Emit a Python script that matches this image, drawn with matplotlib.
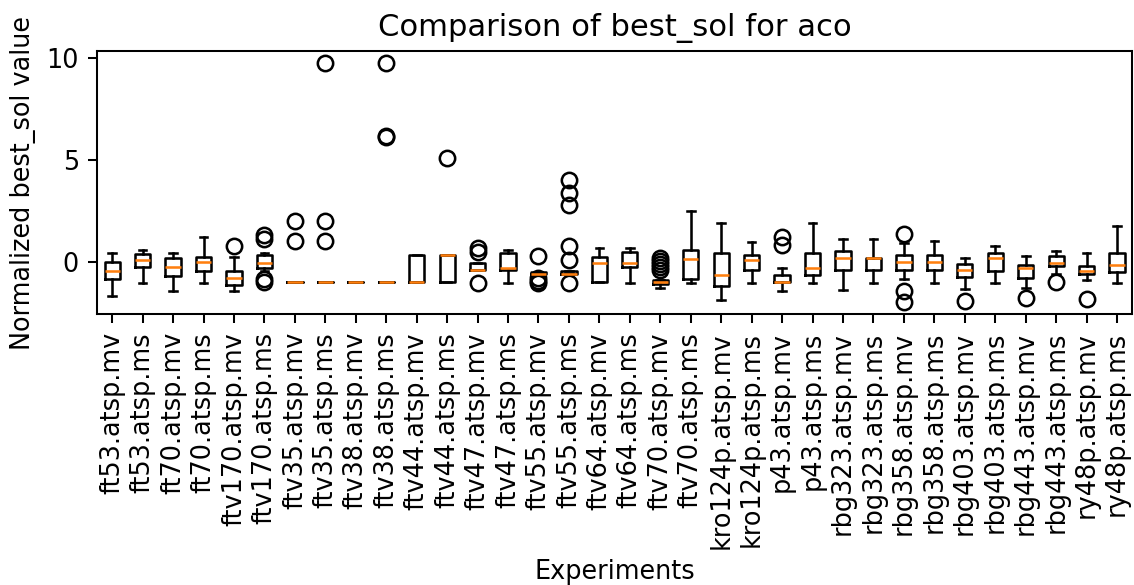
import numpy as np
import matplotlib
matplotlib.use("Agg")
import matplotlib.pyplot as plt

labels = ["ft53.atsp.mv", "ft53.atsp.ms", "ft70.atsp.mv", "ft70.atsp.ms",
          "ftv170.atsp.mv", "ftv170.atsp.ms", "ftv35.atsp.mv", "ftv35.atsp.ms",
          "ftv38.atsp.mv", "ftv38.atsp.ms", "ftv44.atsp.mv", "ftv44.atsp.ms",
          "ftv47.atsp.mv", "ftv47.atsp.ms", "ftv55.atsp.mv", "ftv55.atsp.ms",
          "ftv64.atsp.mv", "ftv64.atsp.ms", "ftv70.atsp.mv", "ftv70.atsp.ms",
          "kro124p.atsp.mv", "kro124p.atsp.ms", "p43.atsp.mv", "p43.atsp.ms",
          "rbg323.atsp.mv", "rbg323.atsp.ms", "rbg358.atsp.mv", "rbg358.atsp.ms",
          "rbg403.atsp.mv", "rbg403.atsp.ms", "rbg443.atsp.mv", "rbg443.atsp.ms",
          "ry48p.atsp.mv", "ry48p.atsp.ms"]

whishi = [0.46, 0.57, 0.46, 1.2, 0.23, 0.46, -1.0, -1.0, -1.0, -1.0, 0.33, 0.33,
          -0.07, 0.58, -0.47, -0.44, 0.69, 0.69, -0.88, 2.48, 1.89, 0.99,
          -0.31, 1.89, 1.13, 1.13, 0.95, 1.0, 0.18, 0.79, 0.3, 0.54, 0.43, 1.74]
q3 = [-0.02, 0.41, 0.2, 0.26, -0.44, 0.33, -1.0, -1.0, -1.0, -1.0, 0.33, 0.33,
      -0.07, 0.46, -0.47, -0.44, 0.23, 0.49, -0.88, 0.56, 0.43, 0.34,
      -0.66, 0.44, 0.51, 0.2, 0.34, 0.34, -0.11, 0.46, -0.15, 0.3, -0.18, 0.43]
med = [-0.44, 0.08, -0.26, 0.02, -0.79, -0.03, -1.0, -1.0, -1.0, -1.0, -1.0, 0.33,
       -0.39, -0.31, -0.57, -0.57, -0.03, -0.05, -1.0, 0.13, -0.66, 0.11,
       -1.0, -0.31, 0.2, 0.2, -0.02, -0.02, -0.41, 0.18, -0.28, -0.03, -0.42, -0.16]
q1 = [-0.85, -0.25, -0.69, -0.44, -1.15, -0.28, -1.0, -1.0, -1.0, -1.0, -1.0, -1.0,
      -0.39, -0.39, -0.6, -0.6, -1.0, -0.25, -1.08, -0.85, -1.18, -0.41,
      -1.0, -0.66, -0.41, -0.41, -0.38, -0.38, -0.74, -0.44, -0.77, -0.2, -0.61, -0.48]
whislo = [-1.67, -1.02, -1.4, -1.02, -1.43, -0.44, -1.0, -1.0, -1.0, -1.0, -1.0, -1.0,
          -0.39, -1.02, -0.6, -0.6, -1.0, -1.02, -1.26, -1.02, -1.84, -1.02,
          -1.4, -1.02, -1.35, -1.02, -0.85, -1.02, -1.31, -1.02, -1.3, -0.61, -0.9, -1.02]
fliers = [[], [], [], [], [0.79], [1.31, 1.12, -0.85, -1.0],
          [2.02, 1.03], [9.74, 2.02, 1.03], [], [9.74, 6.15, 6.1], [], [5.09],
          [0.67, 0.5, -1.02], [], [0.3, -0.8, -0.95, -1.02],
          [4.02, 3.37, 2.79, 0.8, 0.08, -1.02], [], [],
          [0.2, 0.05, -0.1, -0.25, -0.4], [], [], [],
          [1.2, 0.85], [], [], [], [1.36, -1.43, -1.97], [],
          [-1.92], [], [-1.76], [-0.97], [-1.79], []]

stats = []
for i in range(len(labels)):
    stats.append(dict(label=labels[i], med=med[i], q1=q1[i], q3=q3[i],
                      whislo=whislo[i], whishi=whishi[i], fliers=fliers[i]))

DPI = 184
fig = plt.figure(figsize=(1134 / DPI, 585 / DPI), dpi=DPI)
ax = fig.add_axes([0.0855, 0.463, 0.913, 0.45])
ax.bxp(stats, showfliers=True)
ax.set_xticks(np.arange(1, len(labels) + 1))
ax.set_xticklabels(labels, rotation=90)
ax.set_title("Comparison of best_sol for aco")
ax.set_xlabel("Experiments")
ax.set_ylabel("Normalized best_sol value")

plt.savefig("out.png", dpi=DPI)
